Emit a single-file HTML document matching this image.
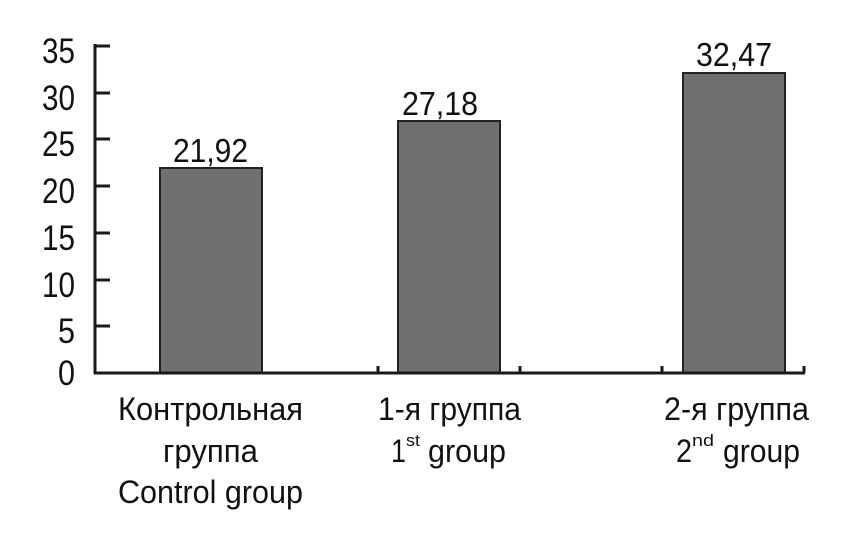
<!DOCTYPE html>
<html><head><meta charset="utf-8"><style>
html,body{margin:0;padding:0;background:#fff;}
svg{display:block;}
text{font-family:"Liberation Sans","DejaVu Sans",sans-serif;fill:#111;}
</style></head><body>
<svg width="853" height="539" viewBox="0 0 853 539" xmlns="http://www.w3.org/2000/svg">
<rect width="853" height="539" fill="#fff"/>
<rect x="160" y="168" width="102" height="205" fill="#707070" stroke="#222" stroke-width="2"/>
<rect x="398" y="121" width="102" height="252" fill="#707070" stroke="#222" stroke-width="2"/>
<rect x="683" y="73" width="102" height="300" fill="#707070" stroke="#222" stroke-width="2"/>
<g stroke="#1a1a1a" stroke-width="3" fill="none">
<line x1="95" y1="44" x2="95" y2="374"/>
<line x1="94" y1="373" x2="805" y2="373"/>
<line x1="95" y1="46" x2="110" y2="46"/>
<line x1="95" y1="93" x2="110" y2="93"/>
<line x1="95" y1="139" x2="110" y2="139"/>
<line x1="95" y1="186" x2="110" y2="186"/>
<line x1="95" y1="233" x2="110" y2="233"/>
<line x1="95" y1="280" x2="110" y2="280"/>
<line x1="95" y1="326" x2="110" y2="326"/>
<line x1="378" y1="366" x2="378" y2="373"/>
<line x1="520" y1="366" x2="520" y2="373"/>
<line x1="662" y1="366" x2="662" y2="373"/>
<line x1="804" y1="366" x2="804" y2="373"/>
</g>
<g font-size="35" text-anchor="end">
<text x="75" y="63" textLength="33" lengthAdjust="spacingAndGlyphs">35</text>
<text x="75" y="110" textLength="33" lengthAdjust="spacingAndGlyphs">30</text>
<text x="75" y="156" textLength="33" lengthAdjust="spacingAndGlyphs">25</text>
<text x="75" y="203" textLength="33" lengthAdjust="spacingAndGlyphs">20</text>
<text x="75" y="250" textLength="33" lengthAdjust="spacingAndGlyphs">15</text>
<text x="75" y="297" textLength="33" lengthAdjust="spacingAndGlyphs">10</text>
<text x="75" y="343" textLength="17" lengthAdjust="spacingAndGlyphs">5</text>
<text x="75" y="385" textLength="17" lengthAdjust="spacingAndGlyphs">0</text>
</g>
<g font-size="33">
<text x="173" y="162" textLength="75" lengthAdjust="spacingAndGlyphs">21,92</text>
<text x="402" y="115" textLength="76" lengthAdjust="spacingAndGlyphs">27,18</text>
<text x="696" y="66" textLength="76" lengthAdjust="spacingAndGlyphs">32,47</text>
</g>
<g font-size="32">
<text x="118" y="420" textLength="185" lengthAdjust="spacingAndGlyphs">Контрольная</text>
<text x="163" y="462" textLength="95" lengthAdjust="spacingAndGlyphs">группа</text>
<text x="118" y="503" textLength="185" lengthAdjust="spacingAndGlyphs">Control group</text>
<text x="378" y="420" textLength="143" lengthAdjust="spacingAndGlyphs">1-я группа</text>
<text x="391" y="462" textLength="15" lengthAdjust="spacingAndGlyphs">1</text>
<text x="406" y="446" font-size="17" textLength="14" lengthAdjust="spacingAndGlyphs">st</text>
<text x="428" y="462" textLength="78" lengthAdjust="spacingAndGlyphs">group</text>
<text x="664" y="420" textLength="145" lengthAdjust="spacingAndGlyphs">2-я группа</text>
<text x="676" y="462" textLength="16" lengthAdjust="spacingAndGlyphs">2</text>
<text x="692" y="446" font-size="17" textLength="22" lengthAdjust="spacingAndGlyphs">nd</text>
<text x="723" y="462" textLength="77" lengthAdjust="spacingAndGlyphs">group</text>
</g>
</svg>
</body></html>
